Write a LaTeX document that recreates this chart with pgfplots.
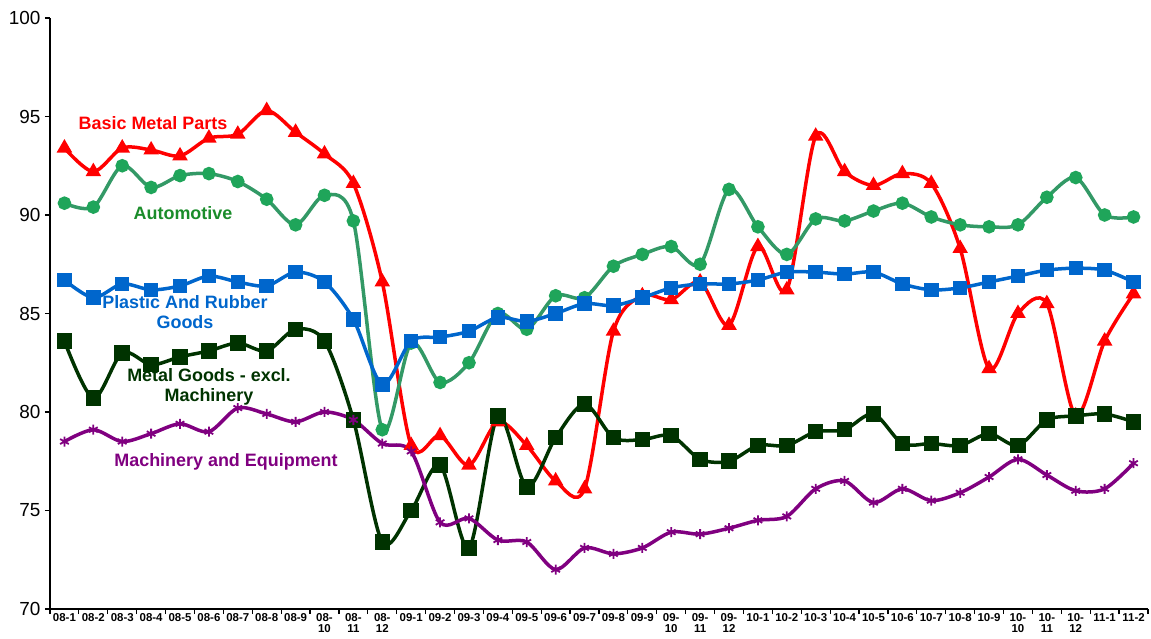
\documentclass[border=0pt]{standalone}
\usepackage{pgfplots}
\pgfplotsset{compat=1.18}
\usepackage{fontspec}
\setmainfont{Liberation Sans}
\definecolor{bmp}{HTML}{FF0000}
\definecolor{autol}{HTML}{339966}
\definecolor{autom}{HTML}{1FA55A}
\definecolor{autot}{HTML}{1A8C2A}
\definecolor{plast}{HTML}{0066CC}
\definecolor{metal}{HTML}{003300}
\definecolor{mach}{HTML}{800080}
\begin{document}
\begin{tikzpicture}[x=1bp,y=1bp]
\begin{axis}[
  at={(0,0)}, anchor=south west,
  scale only axis, width=1098bp, height=591bp,
  xmin=-0.5, xmax=37.5, ymin=70, ymax=100,
  axis lines=left, axis line style={-, line width=1.6bp, black},
  ytick={70,75,...,100},
  yticklabel style={font=\fontsize{19}{21}\selectfont, xshift=-1bp},
  /pgf/number format/assume math mode=true,
  xtick={0,...,37},
  xticklabels={08-1,08-2,08-3,08-4,08-5,08-6,08-7,08-8,08-9,08-\\10,08-\\11,08-\\12,
    09-1,09-2,09-3,09-4,09-5,09-6,09-7,09-8,09-9,09-\\10,09-\\11,09-\\12,
    10-1,10-2,10-3,10-4,10-5,10-6,10-7,10-8,10-9,10-\\10,10-\\11,10-\\12,11-1,11-2},
  xticklabel style={font=\fontsize{11.5}{11}\selectfont\bfseries, align=center, anchor=north, yshift=1.5bp, inner ysep=1bp},
  major x tick style={draw=none},
  minor xtick={-0.5,0.5,...,37.5},
  minor tick length=5bp,
  major tick length=5bp,
  tick align=outside,
  tick style={black, line width=1.2bp},
  clip=false,
  every axis plot/.append style={smooth, tension=0.5, line width=3.5bp},
]
% Basic Metal Parts
\addplot[bmp, mark=triangle*, mark size=5.5bp, mark options={fill=bmp}] coordinates {
(0,93.4)(1,92.2)(2,93.4)(3,93.3)(4,93.0)(5,93.9)(6,94.1)(7,95.3)(8,94.2)(9,93.1)(10,91.6)(11,86.6)
(12,78.3)(13,78.8)(14,77.3)(15,79.5)(16,78.3)(17,76.5)(18,76.1)(19,84.1)(20,85.9)(21,85.7)(22,86.6)(23,84.4)
(24,88.4)(25,86.2)(26,94.0)(27,92.2)(28,91.5)(29,92.1)(30,91.6)(31,88.3)(32,82.2)(33,85.0)(34,85.5)(35,79.8)
(36,83.6)(37,86.0)};
% Automotive
\addplot[autol, mark=*, mark size=5bp, mark options={draw=autom, fill=autom}] coordinates {
(0,90.6)(1,90.4)(2,92.5)(3,91.4)(4,92.0)(5,92.1)(6,91.7)(7,90.8)(8,89.5)(9,91.0)(10,89.7)(11,79.1)
(12,83.5)(13,81.5)(14,82.5)(15,85.0)(16,84.2)(17,85.9)(18,85.8)(19,87.4)(20,88.0)(21,88.4)(22,87.5)(23,91.3)
(24,89.4)(25,88.0)(26,89.8)(27,89.7)(28,90.2)(29,90.6)(30,89.9)(31,89.5)(32,89.4)(33,89.5)(34,90.9)(35,91.9)
(36,90.0)(37,89.9)};
% Plastic and Rubber Goods
\addplot[plast, mark=square*, mark size=5.5bp, mark options={fill=plast}] coordinates {
(0,86.7)(1,85.8)(2,86.5)(3,86.2)(4,86.4)(5,86.9)(6,86.6)(7,86.4)(8,87.1)(9,86.6)(10,84.7)(11,81.4)
(12,83.6)(13,83.8)(14,84.1)(15,84.8)(16,84.6)(17,85.0)(18,85.5)(19,85.4)(20,85.8)(21,86.3)(22,86.5)(23,86.5)
(24,86.7)(25,87.1)(26,87.1)(27,87.0)(28,87.1)(29,86.5)(30,86.2)(31,86.3)(32,86.6)(33,86.9)(34,87.2)(35,87.3)
(36,87.2)(37,86.6)};
% Metal Goods - excl. Machinery
\addplot[metal, mark=square*, mark size=6bp, mark options={fill=metal}] coordinates {
(0,83.6)(1,80.7)(2,83.0)(3,82.4)(4,82.8)(5,83.1)(6,83.5)(7,83.1)(8,84.2)(9,83.6)(10,79.6)(11,73.4)
(12,75.0)(13,77.3)(14,73.1)(15,79.8)(16,76.2)(17,78.7)(18,80.4)(19,78.7)(20,78.6)(21,78.8)(22,77.6)(23,77.5)
(24,78.3)(25,78.3)(26,79.0)(27,79.1)(28,79.9)(29,78.4)(30,78.4)(31,78.3)(32,78.9)(33,78.3)(34,79.6)(35,79.8)
(36,79.9)(37,79.5)};
% Machinery and Equipment
\addplot[mach, mark=asterisk, mark size=5bp, mark options={line width=1.8bp}] coordinates {
(0,78.5)(1,79.1)(2,78.5)(3,78.9)(4,79.4)(5,79.0)(6,80.2)(7,79.9)(8,79.5)(9,80.0)(10,79.6)(11,78.4)
(12,78.0)(13,74.4)(14,74.6)(15,73.5)(16,73.4)(17,72.0)(18,73.1)(19,72.8)(20,73.1)(21,73.9)(22,73.8)(23,74.1)
(24,74.5)(25,74.7)(26,76.1)(27,76.5)(28,75.4)(29,76.1)(30,75.5)(31,75.9)(32,76.7)(33,77.6)(34,76.8)(35,76.0)
(36,76.1)(37,77.4)};
\end{axis}
\begin{scope}[font=\fontsize{18}{20}\selectfont\bfseries]
\node[bmp] at (103bp,486bp) {Basic Metal Parts};
\node[autot] at (133bp,396bp) {Automotive};
\node[plast, align=center] at (135bp,297bp) {Plastic And Rubber\\Goods};
\node[metal, align=center] at (159bp,222bp) {Metal Goods - excl.\\Machinery};
\node[mach] at (176bp,147bp) {Machinery and Equipment};
\end{scope}
\pgfresetboundingbox
\path (-50bp,-30bp) rectangle (1101bp,609bp);
\end{tikzpicture}
\end{document}
